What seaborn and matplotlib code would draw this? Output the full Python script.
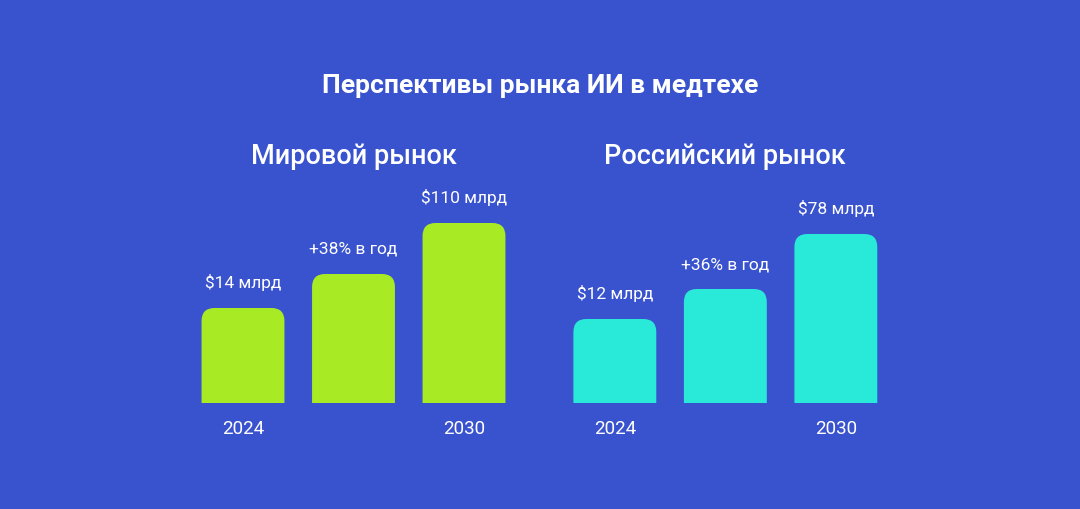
import pandas as pd
import seaborn as sns
import matplotlib.pyplot as plt
from matplotlib.patches import PathPatch
from matplotlib.path import Path

# --- данные ---
categories = ["2024", "рост", "2030"]
year_labels = ["2024", "", "2030"]

# высота столбцов (условные единицы, как на картинке)
world_heights = [95, 129, 180]
russia_heights = [84, 114, 169]

world_labels = ["$14 млрд", "+38% в год", "$110 млрд"]
russia_labels = ["$12 млрд", "+36% в год", "$78 млрд"]

title = "Перспективы рынка ИИ в медтехе"
panel_titles = ["Мировой рынок", "Российский рынок"]

BG = "#3953CE"
GREEN = "#A8EB25"
CYAN = "#29EAD9"

sns.set_theme(style="white")
plt.rcParams["font.family"] = ["Roboto", "DejaVu Sans"]

W, H = 1080, 509
fig = plt.figure(figsize=(W / 100, H / 100), dpi=100)
fig.patch.set_facecolor(BG)


def top_rounded(x0, w, h, rx, ry):
    # столбец со скруглёнными только верхними углами
    x1 = x0 + w
    verts = [(x0, 0), (x0, h - ry), (x0, h), (x0 + rx, h), (x1 - rx, h),
             (x1, h), (x1, h - ry), (x1, 0), (x0, 0)]
    codes = [Path.MOVETO, Path.LINETO, Path.CURVE3, Path.CURVE3, Path.LINETO,
             Path.CURVE3, Path.CURVE3, Path.LINETO, Path.CLOSEPOLY]
    return Path(verts, codes)


def panel(left_px, heights, labels, color, sub):
    # оси: 1 единица по y = 1 пиксель
    ax = fig.add_axes([left_px / W, 1 - 403 / H, 331.5 / W, 250 / H])
    ax.set_facecolor("none")
    df = pd.DataFrame({"cat": categories, "h": heights})
    sns.barplot(data=df, x="cat", y="h", color=color, width=0.75,
                saturation=1, ax=ax)
    ax.set_xlim(-0.5, 2.5)
    ax.set_ylim(0, 250)

    px_per_x = 331.5 / 3
    r = 13
    for p in list(ax.patches):
        x, w, h = p.get_x(), p.get_width(), p.get_height()
        p.set_visible(False)
        ax.add_patch(PathPatch(top_rounded(x, w, h, r / px_per_x, r),
                               fc=color, ec="none"))

    for i, (h, lab) in enumerate(zip(heights, labels)):
        ax.text(i, h + 20, lab, ha="center", va="baseline", color="white",
                fontsize=12.5, clip_on=False)
        if year_labels[i]:
            ax.text(i, -31, year_labels[i], ha="center", va="baseline",
                    color="white", fontsize=13.5, clip_on=False)

    ax.set_axis_off()
    fig.text((left_px + 331.5 / 2) / W, 1 - 164.5 / H, sub, ha="center",
             va="baseline", color="white", fontsize=19.5, fontweight="medium")


panel(187.75, world_heights, world_labels, GREEN, panel_titles[0])
panel(559.6, russia_heights, russia_labels, CYAN, panel_titles[1])

fig.text(0.5, 1 - 93.3 / H, title, ha="center", va="baseline", color="white",
         fontsize=19, fontweight="bold")

fig.savefig("out.png", dpi=100, facecolor=BG)
